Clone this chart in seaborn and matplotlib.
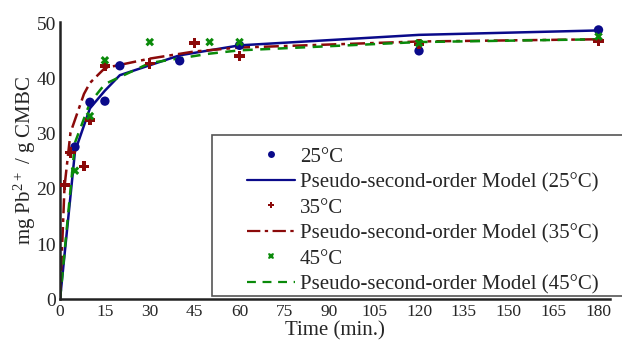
import numpy as np
import pandas as pd
import matplotlib
matplotlib.use('Agg')
import matplotlib.pyplot as plt
import seaborn as sns

t_25 = [5, 10, 15, 20, 40, 60, 120, 180]
q_25 = [27.6, 35.7, 35.9, 42.3, 43.2, 46.0, 45.0, 48.8]
t_35 = [1.5, 3.5, 8, 10, 15, 30, 45, 60, 120, 180]
q_35 = [20.7, 26.6, 24.1, 32.5, 42.3, 42.7, 46.4, 44.1, 46.2, 46.8]
t_45 = [5, 10, 15, 30, 50, 60, 120, 180]
q_45 = [23.3, 33.2, 43.3, 46.6, 46.6, 46.6, 46.4, 47.6]

# pseudo-second-order model lines (vertices)
tm_25 = [0, 5, 10, 15, 20, 40, 60, 120, 180]
qm_25 = [0, 26.8, 34.6, 37.8, 40.6, 44.2, 46.0, 47.9, 48.7]
tm_35 = [0, 1.5, 3.5, 8, 10, 15, 30, 45, 60, 120, 180]
qm_35 = [0, 20.4, 30.2, 37.2, 39.2, 41.9, 43.6, 44.9, 45.6, 46.7, 47.1]
tm_45 = [0, 5, 10, 15, 30, 50, 60, 120, 180]
qm_45 = [0, 28.4, 35.6, 39.0, 42.8, 44.5, 45.1, 46.6, 47.1]

labels = ['25°C', '35°C', '45°C']
colors = ['#0a0a8a', '#8b0a0a', '#0a8a0a']

sns.set_style('white')
plt.rcParams['font.family'] = ['Liberation Serif', 'DejaVu Serif']
plt.rcParams['mathtext.default'] = 'regular'

fig = plt.figure(figsize=(6.22, 3.43), dpi=100)
ax = fig.add_axes([0.0965, 0.127, 0.885, 0.81])

pts = [(t_25, q_25), (t_35, q_35), (t_45, q_45)]
mods = [(tm_25, qm_25), (tm_35, qm_35), (tm_45, qm_45)]
markers = ['o', 'P', 'X']
msizes = [45, 55, 38]
dashes = ['-', (0, (6, 2, 1.5, 2)), (0, (4, 3))]

handles = []
for i in range(3):
	dp = pd.DataFrame({'t': pts[i][0], 'q': pts[i][1]})
	dm = pd.DataFrame({'t': mods[i][0], 'q': mods[i][1]})
	sns.lineplot(ax=ax, data=dm, x='t', y='q', sort=False, estimator=None,
				 color=colors[i], lw=1.8, linestyle=dashes[i], zorder=2)
	sns.scatterplot(ax=ax, data=dp, x='t', y='q', marker=markers[i], s=msizes[i],
					color=colors[i], edgecolor='none', linewidth=0, zorder=3)
	h_pt = plt.Line2D([], [], ls='none', marker=markers[i], color=colors[i],
					  markersize=5, markeredgewidth=0)
	h_ln = plt.Line2D([], [], color=colors[i], lw=1.6, linestyle=dashes[i])
	handles += [h_pt, h_ln]

names = []
for lab in labels:
	names += [lab, 'Pseudo-second-order Model (%s)' % lab]

# legend box drawn separately so the entries keep their left margin
frame = plt.Rectangle((212 / 622, 1 - 296 / 343), 420 / 622, 161 / 343,
					  transform=fig.transFigure, facecolor='white',
					  edgecolor='#555555', lw=1.2, zorder=4)
fig.patches.append(frame)
leg = fig.legend(handles, names, loc='upper left', bbox_to_anchor=(247 / 622, 1 - 147 / 343),
				 fontsize=15, frameon=False, handlelength=2.3, handletextpad=0.25,
				 labelspacing=0.285, borderpad=0, borderaxespad=0)
leg.set_zorder(5)

ax.set_xlim(0, 184)
ax.set_ylim(0, 50.3)
ax.set_xticks(range(0, 181, 15))
ax.set_yticks(range(0, 51, 10))
ax.tick_params(length=0)
ax.tick_params(axis='x', labelsize=12.5, pad=3)
ax.tick_params(axis='y', labelsize=14, pad=3)
ax.set_xlabel('Time (min.)', fontsize=15, labelpad=1)
ax.set_ylabel('mg Pb$^{2+}$ / g CMBC', fontsize=15, labelpad=-1)
sns.despine(ax=ax)
for s in ['left', 'bottom']:
	ax.spines[s].set_color('#222222')
	ax.spines[s].set_linewidth(1.8)

fig.savefig('out.png', dpi=100)
